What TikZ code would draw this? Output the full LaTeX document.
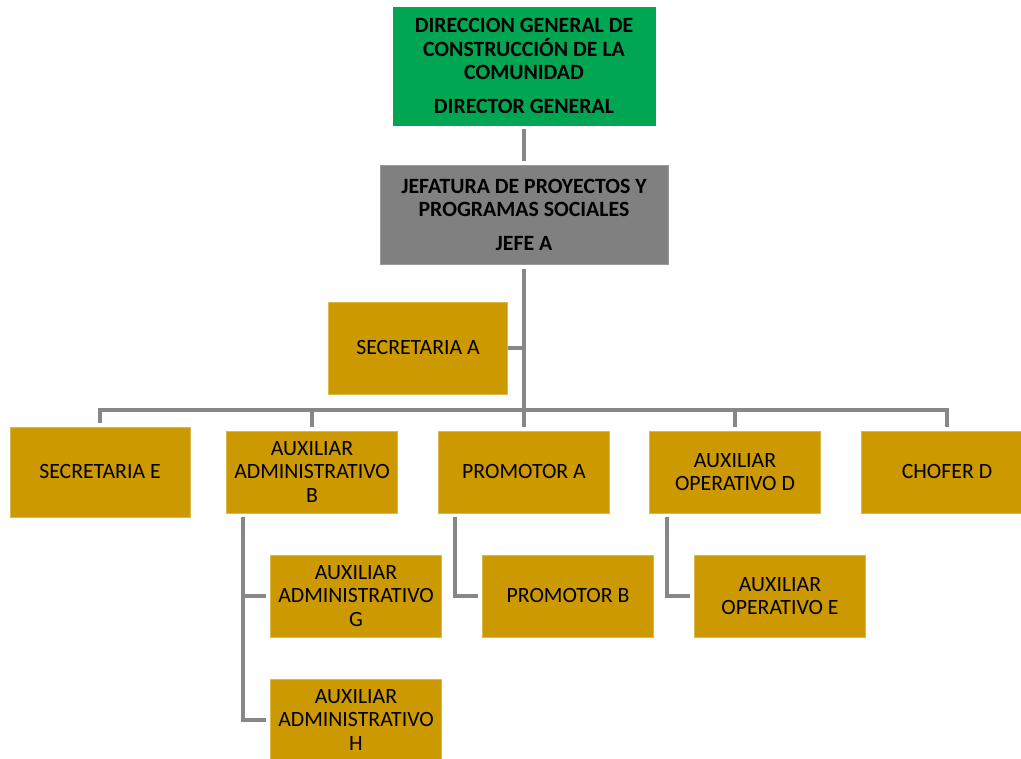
\documentclass[tikz,border=0pt]{standalone}
\usepackage{fontspec}
\setmainfont{Carlito}
\definecolor{verde}{RGB}{0,166,81}
\definecolor{gris}{RGB}{128,128,128}
\definecolor{oro}{RGB}{204,153,0}
\definecolor{linea}{RGB}{135,135,135}
\begin{document}
\begin{tikzpicture}[x=0.02cm, y=-0.02cm, line join=miter,
	font=\fontsize{12.4}{13.4}\selectfont,
	puesto/.style={fill=oro, draw=oro!70!white, line width=0.3pt, align=center, inner sep=0pt, minimum width=3.42cm, minimum height=1.64cm},
	jefatura/.style={puesto, font=\fontsize{12.4}{13.4}\selectfont\bfseries},
	link/.style={draw=linea, line width=2.1pt},
	gap/.style={shorten <=2.3pt, shorten >=2.3pt}]
			\useasboundingbox (0, 0) rectangle (1021, 759);
			\clip (0, 0) rectangle (1021, 759);
			% mandos
			\node[jefatura, fill=verde, draw=verde, minimum width=5.24cm, minimum height=2.36cm] (dir) at (524, 66)
			{DIRECCION GENERAL DE\\CONSTRUCCIÓN DE LA\\COMUNIDAD\\[6pt]DIRECTOR GENERAL};
			\node[jefatura, fill=gris, draw=gris!80!white, minimum width=5.76cm, minimum height=1.98cm] (jefe) at (524, 215)
			{JEFATURA DE PROYECTOS Y\\PROGRAMAS SOCIALES\\[6pt]JEFE A};
			\node[puesto, minimum width=3.58cm, minimum height=1.84cm] (secA) at (418, 348) {SECRETARIA A};
			% segundo nivel
			\node[puesto, minimum width=3.6cm, minimum height=1.8cm] (secE) at (100, 472) {SECRETARIA E};
			\node[puesto] (auxB) at (312, 472) {AUXILIAR\\ADMINISTRATIVO\\B};
			\node[puesto] (promA) at (524, 472) {PROMOTOR A};
			\node[puesto] (auxD) at (735, 472) {AUXILIAR\\OPERATIVO D};
			\node[puesto] (chofer) at (947, 472) {CHOFER D};
			% tercer nivel
			\node[puesto] (auxG) at (356, 596) {AUXILIAR\\ADMINISTRATIVO\\G};
			\node[puesto] (auxH) at (356, 720) {AUXILIAR\\ADMINISTRATIVO\\H};
			\node[puesto] (promB) at (568, 596) {PROMOTOR B};
			\node[puesto] (auxE) at (780, 596) {AUXILIAR\\OPERATIVO E};
			% lineas
			\coordinate (bus) at (524, 410);
			\draw[link, gap] (dir) -- (jefe);
			\draw[link, shorten <=2.3pt] (jefe.south) -- (bus);
			\draw[link] (secA.east) -- (secA.east -| bus);
			\draw[link, gap] (secE.north) |- (bus) -| (chofer.north);
			\foreach \n in {auxB, promA, auxD}
			\draw[link, shorten >=2.3pt] (bus -| \n.north) -- (\n.north);
			\coordinate (kB) at ([xshift=0.34cm]auxB.south west);
			\coordinate (kP) at ([xshift=0.34cm]promA.south west);
			\coordinate (kD) at ([xshift=0.36cm]auxD.south west);
			\draw[link, gap] (kB) |- (auxH.west);
			\draw[link, shorten >=2.3pt] (kB |- auxG.west) -- (auxG.west);
			\draw[link, gap] (kP) |- (promB.west);
			\draw[link, gap] (kD) |- (auxE.west);
	\end{tikzpicture}
\end{document}
